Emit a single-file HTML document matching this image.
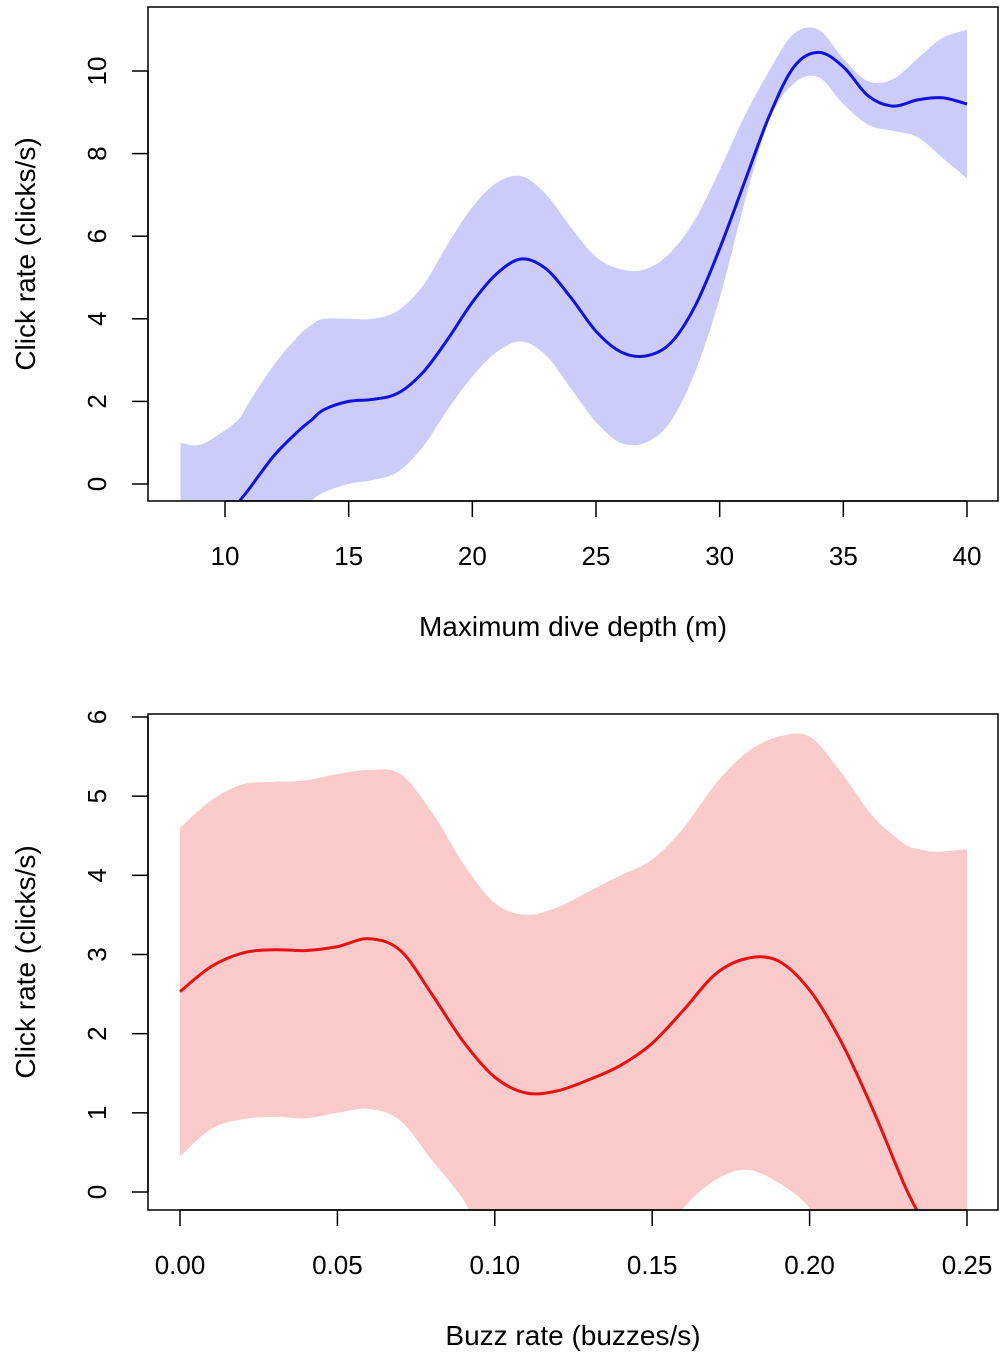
<!DOCTYPE html>
<html><head><meta charset="utf-8"><style>
body{margin:0;background:#fff}
svg text{font-family:"Liberation Sans",Arial,sans-serif;fill:#000}
</style></head><body>
<svg id="c" width="1006" height="1366" xmlns="http://www.w3.org/2000/svg">
<defs>
<clipPath id="clip1"><rect x="148" y="7" width="850" height="494"/></clipPath>
<clipPath id="clip2"><rect x="148" y="714" width="850" height="496"/></clipPath>
</defs>
</svg>
<script>
// Top chart data
const topX=[8.2,9,10,10.6,11,12,13,13.5,14,15,16,17,18,19,20,21,22,23,24,25,26,27,28,29,30,31,32,33,34,35,36,37,38,39,40];
const topMean=[null,null,null,-0.4,-0.1,0.7,1.3,1.55,1.8,2.0,2.05,2.2,2.7,3.5,4.4,5.1,5.45,5.2,4.5,3.7,3.2,3.1,3.4,4.3,5.7,7.3,8.9,10.1,10.45,10.1,9.4,9.15,9.3,9.35,9.2];
const topUpper=[1.0,0.95,1.3,1.6,2.0,2.9,3.6,3.85,4.0,4.0,4.0,4.2,4.8,5.8,6.7,7.3,7.45,7.0,6.2,5.5,5.2,5.2,5.6,6.4,7.6,8.9,10.0,10.9,11.0,10.3,9.75,9.8,10.3,10.8,11.0];
const topLower=[-2,-2,-2,-2,-1.5,-1.2,-0.7,-0.4,-0.2,0.0,0.1,0.3,0.9,1.8,2.6,3.2,3.45,3.1,2.3,1.5,1.0,1.0,1.5,2.7,4.5,6.8,8.8,9.7,9.85,9.2,8.7,8.55,8.4,7.9,7.4];
const topXTicks=[10,15,20,25,30,35,40];
const topYTicks=[0,2,4,6,8,10];
// Bottom chart data
const botX=[0,0.01,0.02,0.03,0.04,0.05,0.06,0.07,0.08,0.09,0.10,0.11,0.12,0.13,0.14,0.15,0.16,0.17,0.18,0.19,0.20,0.21,0.22,0.23,0.235,0.24,0.25];
const botMean=[2.53,2.85,3.02,3.06,3.05,3.1,3.2,3.05,2.5,1.9,1.45,1.25,1.28,1.42,1.6,1.88,2.3,2.75,2.95,2.92,2.55,1.9,1.05,0.1,-0.3,null,null];
const botUpper=[4.6,4.95,5.15,5.18,5.2,5.28,5.33,5.28,4.8,4.15,3.65,3.5,3.6,3.8,4.0,4.2,4.6,5.15,5.55,5.75,5.75,5.3,4.75,4.4,4.33,4.3,4.33];
const botLower=[0.45,0.8,0.92,0.95,0.93,1.0,1.05,0.9,0.4,-0.1,-0.8,-1,-1,-1,-1,-0.8,-0.2,0.15,0.28,0.12,-0.2,-0.8,-1,-1,-1,-1,-1];
const botXTicks=[0,0.05,0.10,0.15,0.20,0.25];
const botYTicks=[0,1,2,3,4,5,6];

const svg=document.getElementById('c');
const NS='http://www.w3.org/2000/svg';
function mk(tag,attrs,parent){const e=document.createElementNS(NS,tag);for(const k in attrs)e.setAttribute(k,attrs[k]);(parent||svg).appendChild(e);return e;}
// Catmull-Rom smoothing through screen points
function smooth(pts,start){
  let d=(start?'M':'L')+pts[0][0].toFixed(1)+','+pts[0][1].toFixed(1);
  for(let i=0;i<pts.length-1;i++){
    const p0=pts[i-1]||pts[i],p1=pts[i],p2=pts[i+1],p3=pts[i+2]||pts[i+1];
    const c1=[p1[0]+(p2[0]-p0[0])/6,p1[1]+(p2[1]-p0[1])/6];
    const c2=[p2[0]-(p3[0]-p1[0])/6,p2[1]-(p3[1]-p1[1])/6];
    d+='C'+c1.map(v=>v.toFixed(1)).join(',')+' '+c2.map(v=>v.toFixed(1)).join(',')+' '+p2[0].toFixed(1)+','+p2[1].toFixed(1);
  }
  return d;
}

function drawChart(o){
  const sx=v=>o.x0px+(v-o.x0)*(o.x1px-o.x0px)/(o.x1-o.x0);
  const sy=v=>o.y0px+(v-o.y0)*(o.y1px-o.y0px)/(o.y1-o.y0);
  const g=mk('g',{});
  
  
  const gc=mk('g',{'clip-path':'url(#'+o.clip+')'},g);
  const up=o.xs.map((x,i)=>[sx(x),sy(o.upper[i])]);
  const lo=o.xs.map((x,i)=>[sx(x),sy(o.lower[i])]).reverse();
  const d=smooth(up,true)+smooth(lo,false)+'Z';
  const band=mk('path',{d:d,fill:o.band,stroke:'none'},gc);
  
  
  const mp=[];
  o.xs.forEach((x,i)=>{if(o.mean[i]!==null)mp.push([sx(x),sy(o.mean[i])]);});
  const line=mk('path',{d:smooth(mp,true),fill:'none',stroke:o.line,'stroke-width':3,'stroke-linejoin':'round'},gc);
  
  
  const box=mk('rect',{x:o.bx,y:o.by,width:o.bw,height:o.bh,fill:'none',stroke:'#000','stroke-width':1.5},g);
  
  
  const yb=o.by+o.bh;
  mk('line',{x1:sx(o.xt[0]),x2:sx(o.xt[o.xt.length-1]),y1:yb,y2:yb,stroke:'#000','stroke-width':1.5},g);
  o.xt.forEach(t=>{
    mk('line',{x1:sx(t),x2:sx(t),y1:yb,y2:yb+16,stroke:'#000','stroke-width':1.5},g);
    const tx=mk('text',{x:sx(t),y:yb+64,'font-size':26,'text-anchor':'middle'},g);
    tx.textContent=o.xfmt(t);
    
    
  });
  mk('line',{x1:o.bx,x2:o.bx,y1:sy(o.yt[0]),y2:sy(o.yt[o.yt.length-1]),stroke:'#000','stroke-width':1.5},g);
  o.yt.forEach(t=>{
    mk('line',{x1:o.bx,x2:o.bx-16,y1:sy(t),y2:sy(t),stroke:'#000','stroke-width':1.5},g);
    const tx=mk('text',{x:0,y:0,'font-size':26,'text-anchor':'middle',transform:'translate(106,'+sy(t)+') rotate(-90)'},g);
    tx.textContent=String(t);
    
    
  });
  const xl=mk('text',{x:o.bx+o.bw/2,y:yb+135,'font-size':28,'text-anchor':'middle'},g);
  xl.textContent=o.xlabel;
  
  
  const yl=mk('text',{x:0,y:0,'font-size':28,'text-anchor':'middle',transform:'translate(35,'+(o.by+o.bh/2)+') rotate(-90)'},g);
  yl.textContent='Click rate (clicks/s)';
  
  
}
drawChart({name:'depth-chart',clip:'clip1',xs:topX,mean:topMean,upper:topUpper,lower:topLower,xt:topXTicks,yt:topYTicks,
  x0:10,x1:40,x0px:225,x1px:967,y0:0,y1:10,y0px:484,y1px:71,bx:148,by:7,bw:850,bh:494,
  band:'#ccccfb',line:'#1010e0',xfmt:t=>String(t),xlabel:'Maximum dive depth (m)'});
drawChart({name:'buzz-chart',clip:'clip2',xs:botX,mean:botMean,upper:botUpper,lower:botLower,xt:botXTicks,yt:botYTicks,
  x0:0,x1:0.25,x0px:180,x1px:967,y0:0,y1:6,y0px:1192,y1px:717,bx:148,by:714,bw:850,bh:496,
  band:'#fbcaca',line:'#e81010',xfmt:t=>t.toFixed(2),xlabel:'Buzz rate (buzzes/s)'});
</script>
</body></html>
